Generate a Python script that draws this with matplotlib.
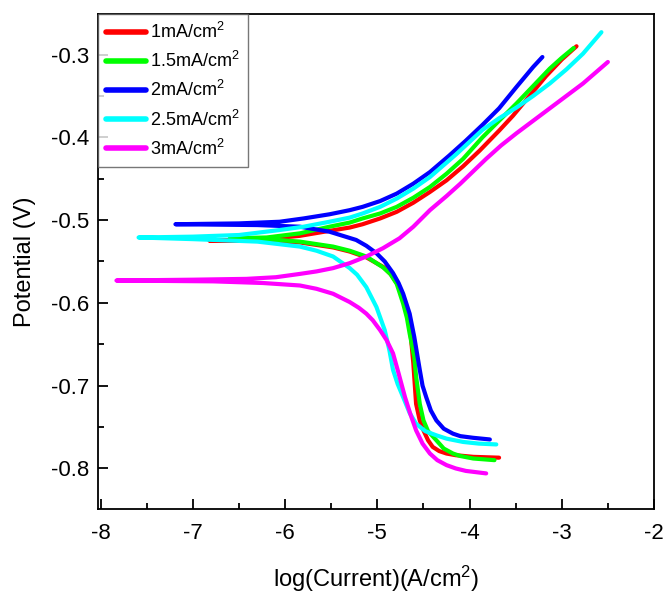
import numpy as np
import matplotlib
matplotlib.use("Agg")
import matplotlib.pyplot as plt
from matplotlib.ticker import MultipleLocator, FormatStrFormatter

plt.rcParams['font.family'] = ['Liberation Sans', 'DejaVu Sans']
plt.rcParams['mathtext.default'] = 'regular'
plt.rcParams['axes.unicode_minus'] = False

# Courbes de polarisation : branche cathodique (fin -> Ecorr) puis branche anodique
labels = ["1mA/cm$^2$", "1.5mA/cm$^2$", "2mA/cm$^2$", "2.5mA/cm$^2$", "3mA/cm$^2$"]
colors = ["#ff0000", "#00ff00", "#0000ff", "#00ffff", "#ff00ff"]

logi_1 = [-3.68, -3.96, -4.15, -4.25, -4.33, -4.40, -4.45, -4.50, -4.54, -4.58, -4.61, -4.64, -4.67, -4.70, -4.74, -4.78,
          -4.85, -4.93, -5.12, -5.30, -5.48, -5.84, -6.30, -6.82,
          -6.30, -5.84, -5.52, -5.30, -5.16, -4.97, -4.79, -4.61, -4.43, -4.25, -4.07, -3.89, -3.68, -3.53, -3.35, -3.17, -3.00, -2.84]
pot_1 = [-0.787, -0.786, -0.784, -0.782, -0.779, -0.774, -0.766, -0.754, -0.742, -0.722, -0.673, -0.637, -0.617, -0.601, -0.588, -0.578,
         -0.566, -0.557, -0.545, -0.538, -0.533, -0.527, -0.525, -0.525,
         -0.524, -0.519, -0.513, -0.509, -0.505, -0.498, -0.490, -0.479, -0.466, -0.452, -0.435, -0.416, -0.392, -0.374, -0.350, -0.326, -0.306, -0.290]

logi_15 = [-3.73, -3.96, -4.10, -4.18, -4.28, -4.36, -4.45, -4.50, -4.54, -4.58, -4.60, -4.65, -4.68, -4.72, -4.79, -4.86,
           -4.94, -5.12, -5.30, -5.48, -5.84, -6.20, -6.60,
           -6.20, -5.84, -5.52, -5.30, -5.16, -4.97, -4.79, -4.61, -4.43, -4.25, -4.07, -3.86, -3.68, -3.49, -3.31, -3.13, -3.00, -2.87]
pot_15 = [-0.790, -0.788, -0.785, -0.782, -0.776, -0.766, -0.755, -0.742, -0.722, -0.689, -0.665, -0.637, -0.618, -0.601, -0.577, -0.565,
          -0.557, -0.544, -0.537, -0.532, -0.526, -0.523, -0.522,
          -0.521, -0.516, -0.508, -0.503, -0.498, -0.492, -0.484, -0.473, -0.460, -0.444, -0.426, -0.400, -0.380, -0.359, -0.338, -0.317, -0.304, -0.292]

logi_2 = [-3.78, -3.96, -4.10, -4.18, -4.28, -4.36, -4.42, -4.47, -4.51, -4.54, -4.57, -4.60, -4.65, -4.72, -4.77, -4.83,
          -4.92, -5.01, -5.12, -5.23, -5.52, -5.84, -6.30, -7.19,
          -6.50, -6.06, -5.80, -5.52, -5.30, -5.16, -4.97, -4.79, -4.61, -4.43, -4.22, -4.04, -3.86, -3.68, -3.49, -3.31, -3.21]
pot_2 = [-0.765, -0.763, -0.761, -0.758, -0.752, -0.742, -0.730, -0.714, -0.700, -0.681, -0.661, -0.641, -0.613, -0.589, -0.576, -0.564,
         -0.550, -0.540, -0.531, -0.524, -0.514, -0.508, -0.506, -0.505,
         -0.504, -0.502, -0.498, -0.493, -0.488, -0.484, -0.477, -0.468, -0.456, -0.442, -0.422, -0.404, -0.385, -0.365, -0.339, -0.315, -0.303]

logi_25 = [-3.71, -3.90, -4.07, -4.25, -4.36, -4.48, -4.58, -4.65, -4.72, -4.78, -4.83, -4.87, -4.92, -5.01, -5.12, -5.22,
           -5.30, -5.48, -5.66, -5.84, -6.30, -7.00, -7.59,
           -7.00, -6.50, -6.06, -5.80, -5.52, -5.30, -5.16, -4.97, -4.79, -4.61, -4.43, -4.14, -3.86, -3.68, -3.49, -3.31, -3.13, -2.95, -2.77, -2.57]
pot_25 = [-0.771, -0.770, -0.768, -0.764, -0.760, -0.755, -0.746, -0.733, -0.714, -0.698, -0.681, -0.657, -0.633, -0.605, -0.581, -0.566,
          -0.558, -0.544, -0.537, -0.532, -0.526, -0.523, -0.521,
          -0.520, -0.518, -0.512, -0.508, -0.502, -0.497, -0.492, -0.484, -0.474, -0.462, -0.448, -0.420, -0.391, -0.377, -0.364, -0.350, -0.335, -0.318, -0.299, -0.273]

logi_3 = [-3.82, -4.04, -4.15, -4.25, -4.35, -4.43, -4.51, -4.58, -4.64, -4.70, -4.77, -4.83, -4.90, -4.97, -5.05, -5.12,
          -5.20, -5.30, -5.48, -5.66, -5.84, -6.24, -6.78, -7.83,
          -7.00, -6.42, -6.10, -5.84, -5.66, -5.48, -5.30, -5.12, -4.94, -4.76, -4.61, -4.43, -4.25, -4.10, -3.82, -3.66,
          -3.49, -3.31, -3.13, -2.95, -2.77, -2.50]
pot_3 = [-0.806, -0.803, -0.800, -0.796, -0.790, -0.782, -0.770, -0.754, -0.735, -0.714, -0.685, -0.661, -0.645, -0.633, -0.621, -0.613,
         -0.606, -0.599, -0.589, -0.583, -0.579, -0.576, -0.574, -0.573,
         -0.572, -0.571, -0.569, -0.565, -0.562, -0.558, -0.552, -0.544, -0.534, -0.522, -0.508, -0.488, -0.471, -0.456, -0.426, -0.410,
         -0.395, -0.380, -0.365, -0.350, -0.335, -0.309]

series = [(logi_1, pot_1), (logi_15, pot_15), (logi_2, pot_2), (logi_25, pot_25), (logi_3, pot_3)]

fig = plt.figure(figsize=(6.68, 5.92), dpi=100)
ax = fig.add_axes([0.1467, 0.1402, 0.8323, 0.8362])

for (x, y), lab, c in zip(series, labels, colors):
    ax.plot(x, y, color=c, lw=3, label=lab, solid_capstyle='round', solid_joinstyle='round')

ax.set_xlim(-8.03, -2.0)
ax.set_ylim(-0.849, -0.251)
ax.xaxis.set_major_locator(MultipleLocator(1))
ax.xaxis.set_minor_locator(MultipleLocator(0.5))
ax.yaxis.set_major_locator(MultipleLocator(0.1))
ax.yaxis.set_minor_locator(MultipleLocator(0.05))
ax.yaxis.set_major_formatter(FormatStrFormatter('%.1f'))
ax.tick_params(which='both', direction='in', top=False, right=False, width=1.3, labelsize=16)
ax.tick_params(which='major', length=7)
ax.tick_params(which='minor', length=4)
ax.tick_params(axis='x', pad=10)
ax.tick_params(axis='y', pad=6)
for s in ax.spines.values():
    s.set_linewidth(1.3)

ax.set_xlabel("log(Current)(A/cm$^2$)", fontsize=17, labelpad=14)
ax.set_ylabel("Potential (V)", fontsize=17, labelpad=11)

leg = ax.legend(loc='upper left', bbox_to_anchor=(0, 1), borderaxespad=0, fontsize=13,
                frameon=True, fancybox=False, edgecolor='#555555', handlelength=2.2,
                handletextpad=0.25, labelspacing=0.5, borderpad=0.45)
leg.get_frame().set_linewidth(1.0)
for h in leg.get_lines():
    h.set_linewidth(4)

fig.savefig("out.png", dpi=100)
